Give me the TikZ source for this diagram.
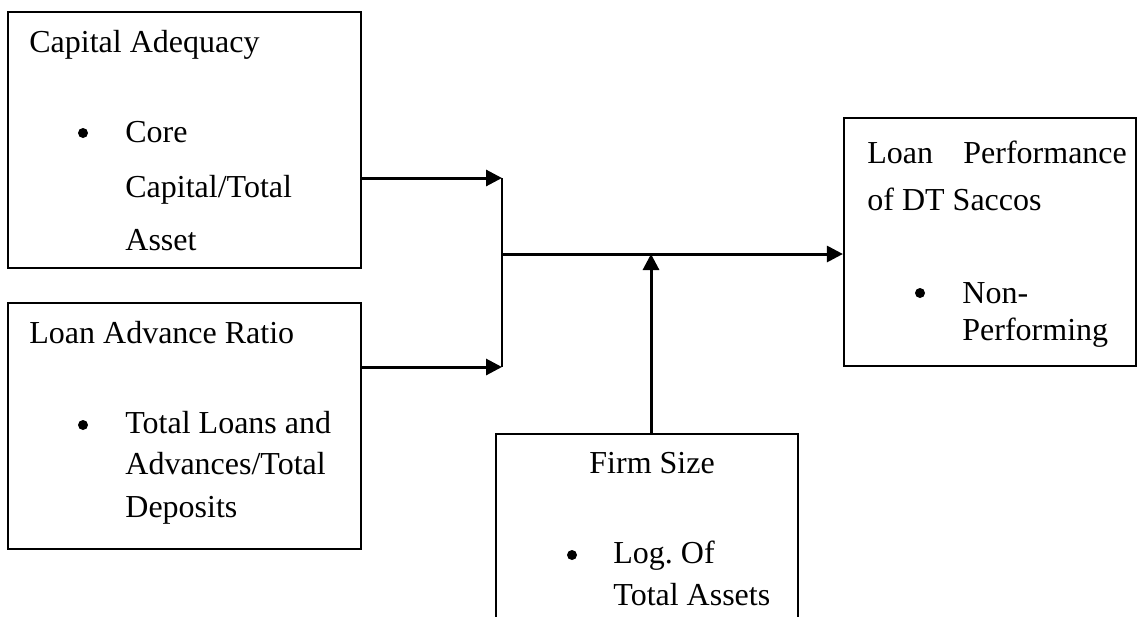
\documentclass[tikz,border=0pt]{standalone}
\usepackage{fontspec}
\setmainfont{Liberation Serif}
\usetikzlibrary{arrows.meta}

\begin{document}
\begin{tikzpicture}[x=0.5pt, y=-0.5pt,
    box/.style={draw, line width=1.1pt, inner sep=0pt},
    txt/.style={anchor=base west, inner sep=0pt,
                font=\fontsize{16}{19}\selectfont},
    dot/.style={circle, fill, inner sep=0pt, minimum size=5pt},
    link/.style={line width=1.5pt, -{Triangle[length=8pt, width=8pt]}}
  ]
  \useasboundingbox (0,0) rectangle (1138,616);
  \clip (0,0) rectangle (1138,616);

  % boxes
  \node[box, minimum width=176.5pt, minimum height=128pt] (capital) at (184.5,140) {};
  \node[box, minimum width=176.5pt, minimum height=123pt] (advance) at (184.5,426) {};
  \node[box, minimum width=146pt, minimum height=124pt] (perform) at (990,242) {};
  \node[box, minimum width=151pt, minimum height=113pt] (size) at (647,547) {};

  % texts
  \node[txt] (capT) at (29,52) {Capital Adequacy};
  \node[dot] (capB) at (83,133) {};
  \node[txt] (capL1) at (125,142) {Core};
  \node[txt] (capL2) at (125,197) {Capital/Total};
  \node[txt] (capL3) at (125,250) {Asset};

  \node[txt] (advT) at (29,343) {Loan Advance Ratio};
  \node[dot] (advB) at (83,425) {};
  \node[txt] (advL1) at (125,433) {Total Loans and};
  \node[txt] (advL2) at (125,474) {Advances/Total};
  \node[txt] (advL3) at (125,517) {Deposits};

  \node[txt] (perT1) at (867,163) {Loan};
  \node[txt] (perT2) at (963,163) {Performance};
  \node[txt] (perT3) at (867,210) {of DT Saccos};
  \node[dot] (perB) at (920,293) {};
  \node[txt] (perL1) at (962,303) {Non-};
  \node[txt] (perL2) at (962,340) {Performing};

  \node[txt] (sizT) at (589,473) {Firm Size};
  \node[dot] (sizB) at (572,555) {};
  \node[txt] (sizL1) at (613,563) {Log.\ Of};
  \node[txt] (sizL2) at (613,605) {Total Assets};

  % connectors
  \coordinate (j1) at (502,178);
  \coordinate (j2) at (502,367);
  \coordinate (jm) at (502,254);
  \coordinate (fs) at (651,254);

  \draw[link] (capital.east |- j1) -- (j1);
  \draw[link] (advance.east |- j2) -- (j2);
  \draw[line width=1.1pt] (j1) -- (j2);
  \draw[link] (jm) -- (jm -| perform.west);
  \draw[link] (fs |- size.north) -- (fs);
\end{tikzpicture}
\end{document}
